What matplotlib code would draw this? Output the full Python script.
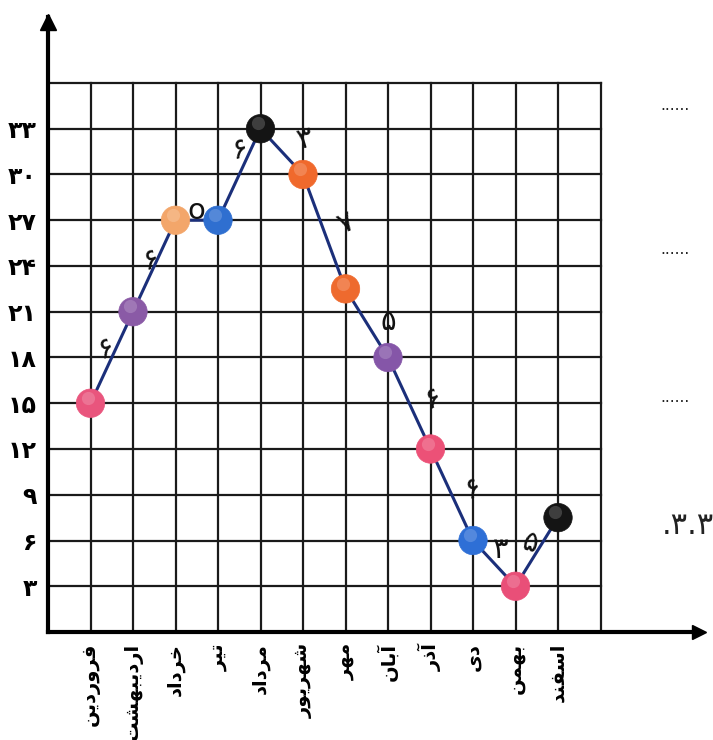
"""Monthly values chart (Persian months) drawn on a square grid."""

import matplotlib

matplotlib.use("Agg")
import matplotlib.pyplot as plt  # noqa: E402

months = [
    "فروردین", "اردیبهشت", "خرداد", "تیر", "مرداد", "شهریور",
    "مهر", "آبان", "آذر", "دی", "بهمن", "اسفند",
]
values = [15, 21, 27, 27, 33, 30, 22.5, 18, 12, 6, 3, 7.5]
point_colors = [
    "#e9557d", "#8a5aa6", "#f3a66a", "#2f6fd0", "#141414", "#f0692c",
    "#ee6a2e", "#8556a8", "#ec5177", "#2e6fd6", "#e94f78", "#141414",
]
y_ticks = [3, 6, 9, 12, 15, 18, 21, 24, 27, 30, 33]
# handwritten differences between neighbouring months
diff_labels = ["۶", "۶", "o", "۶", "۳", "۷", "۵", "۶", "۶", "۳", "۵"]
diff_pos = [
    (1.36, 18.6), (2.42, 24.4), (3.5, 27.6), (4.5, 31.6), (6.05, 32.3),
    (7.0, 26.8), (8.0, 20.3), (9.05, 15.3), (10.0, 9.4), (10.65, 5.4), (11.35, 5.8),
]
diff_rot = [20, 15, 0, 10, 15, 25, 0, 20, 20, 0, -15]

# presentation forms: isolated, final, initial, medial
FORMS = {
    "ا": ("\uFE8D", "\uFE8E", None, None),
    "آ": ("\uFE81", "\uFE82", None, None),
    "ب": ("\uFE8F", "\uFE90", "\uFE91", "\uFE92"),
    "ت": ("\uFE95", "\uFE96", "\uFE97", "\uFE98"),
    "خ": ("\uFEA5", "\uFEA6", "\uFEA7", "\uFEA8"),
    "د": ("\uFEA9", "\uFEAA", None, None),
    "ذ": ("\uFEAB", "\uFEAC", None, None),
    "ر": ("\uFEAD", "\uFEAE", None, None),
    "س": ("\uFEB1", "\uFEB2", "\uFEB3", "\uFEB4"),
    "ش": ("\uFEB5", "\uFEB6", "\uFEB7", "\uFEB8"),
    "ف": ("\uFED1", "\uFED2", "\uFED3", "\uFED4"),
    "م": ("\uFEE1", "\uFEE2", "\uFEE3", "\uFEE4"),
    "ن": ("\uFEE5", "\uFEE6", "\uFEE7", "\uFEE8"),
    "ه": ("\uFEE9", "\uFEEA", "\uFEEB", "\uFEEC"),
    "و": ("\uFEED", "\uFEEE", None, None),
    "ی": ("\uFBFC", "\uFBFD", "\uFBFE", "\uFBFF"),
}


def shape(word):
    """Join Persian letters and reverse them for left-to-right drawing."""
    out = []
    for i, ch in enumerate(word):
        forms = FORMS.get(ch)
        if forms is None:
            out.append(ch)
            continue
        prev = FORMS.get(word[i - 1]) if i > 0 else None
        nxt = FORMS.get(word[i + 1]) if i + 1 < len(word) else None
        join_prev = prev is not None and prev[2] is not None
        join_next = nxt is not None and forms[2] is not None
        if join_prev and join_next:
            out.append(forms[3])
        elif join_prev:
            out.append(forms[1])
        elif join_next:
            out.append(forms[2])
        else:
            out.append(forms[0])
    return "".join(reversed(out))


def fa_digits(n):
    return str(n).translate(str.maketrans("0123456789", "۰۱۲۳۴۵۶۷۸۹"))


plt.rcParams["font.family"] = ["DejaVu Sans"]

W, H = 713, 740
fig = plt.figure(figsize=(W / 100, H / 100), dpi=100)
# axes: x=0 at 48px, y=0 at 632px; 42.5 px per month, 15.25 px per unit
x0, y0, sx, sy = 48, 632, 42.5, 15.25
x_max = (712 - x0) / sx
y_max = (y0 - 8) / sy
ax = fig.add_axes([x0 / W, (H - y0) / H, (712 - x0) / W, (y0 - 8) / H])
ax.set_xlim(0, x_max)
ax.set_ylim(0, y_max)
for side in ax.spines.values():
    side.set_visible(False)

# grid
for gx in range(1, 14):
    ax.plot([gx, gx], [0, 36], color="#1a1a1a", lw=1.6, zorder=1)
for gy in range(3, 37, 3):
    ax.plot([0, 13], [gy, gy], color="#1a1a1a", lw=1.6, zorder=1)

# axes with arrows
ax.plot([0, 0], [0, y_max - 0.6], color="black", lw=3, clip_on=False, zorder=2)
ax.plot([0, x_max - 0.3], [0, 0], color="black", lw=3, clip_on=False, zorder=2)
ax.plot(0, y_max - 0.9, marker="^", ms=11, color="black", clip_on=False, zorder=3)
ax.plot(x_max - 0.3, 0, marker=">", ms=10, color="black", clip_on=False, zorder=3)

xs = list(range(1, len(months) + 1))
ax.plot(xs, values, color="#1b2f7a", lw=2.2, zorder=4)
ax.scatter(xs, values, s=420, c=point_colors, edgecolors=point_colors,
           linewidths=0.5, zorder=5)
# soft highlight on each bead
ax.scatter([x - 0.07 for x in xs], [v + 0.35 for v in values], s=90,
           c="white", alpha=0.18, linewidths=0, zorder=6)

ax.set_xticks(xs)
ax.set_xticklabels([shape(m) for m in months], rotation=90, fontsize=14,
                   fontweight="bold", va="top")
ax.set_yticks(y_ticks)
ax.set_yticklabels([fa_digits(v) for v in y_ticks], fontsize=17, fontweight="bold")
ax.tick_params(length=0, pad=8)

for label, (tx, ty), rot in zip(diff_labels, diff_pos, diff_rot):
    ax.text(tx, ty, label, fontsize=21, ha="center", va="center",
            rotation=rot, color="#111111", zorder=7)

# dotted answer lines on the page margin
for fy in [105, 250, 398]:
    fig.text(660 / W, 1 - fy / H, "......", fontsize=11, color="#222222",
             ha="left", va="center")
fig.text(662 / W, 1 - 525 / H, ".۳.۳", fontsize=22, color="#222222",
         ha="left", va="center")

fig.savefig("out.png", dpi=100, facecolor="white")
